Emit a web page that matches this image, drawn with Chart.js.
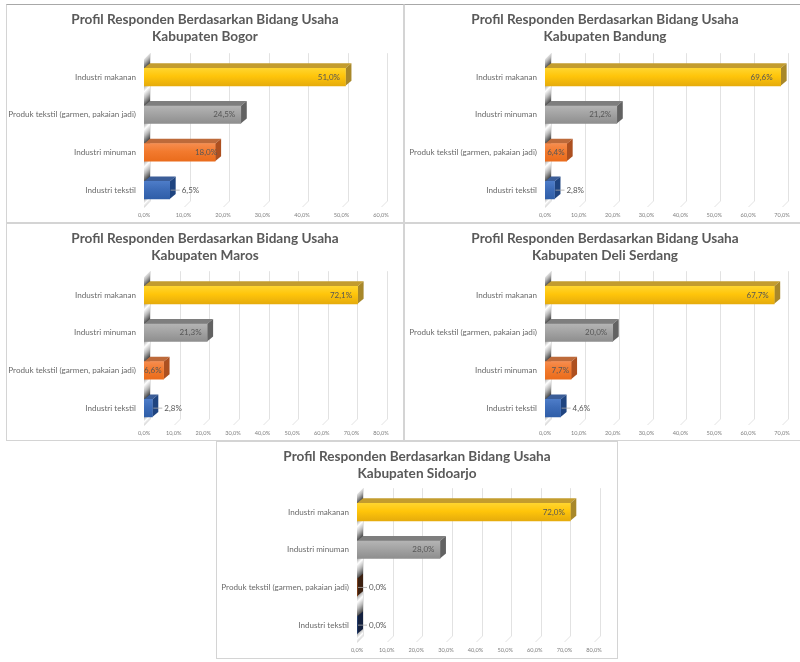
<!DOCTYPE html>
<html>
<head>
<meta charset="utf-8">
<title>Profil Responden Berdasarkan Bidang Usaha</title>
<script src="https://cdn.jsdelivr.net/npm/chart.js@4"></script>
<style>
  html, body { margin: 0; padding: 0; background: #fff; overflow: hidden; width: 800px; height: 662px; }
  .panel { position: absolute; box-sizing: border-box; border: 1px solid #d4d4d4; }
  canvas { position: absolute; left: 0; top: 0; }
</style>
</head>
<body>
<script>
// Survey results per regency: share of respondents by line of business (percent).
const districts = ['Kabupaten Bogor', 'Kabupaten Bandung', 'Kabupaten Maros', 'Kabupaten Deli Serdang', 'Kabupaten Sidoarjo'];
const chartHeading = 'Profil Responden Berdasarkan Bidang Usaha';

const categoriesBogor = ['Industri makanan', 'Produk tekstil (garmen, pakaian jadi)', 'Industri minuman', 'Industri tekstil'];
const valuesBogor = [51.0, 24.5, 18.0, 6.5];

const categoriesBandung = ['Industri makanan', 'Industri minuman', 'Produk tekstil (garmen, pakaian jadi)', 'Industri tekstil'];
const valuesBandung = [69.6, 21.2, 6.4, 2.8];

const categoriesMaros = ['Industri makanan', 'Industri minuman', 'Produk tekstil (garmen, pakaian jadi)', 'Industri tekstil'];
const valuesMaros = [72.1, 21.3, 6.6, 2.8];

const categoriesDeliSerdang = ['Industri makanan', 'Produk tekstil (garmen, pakaian jadi)', 'Industri minuman', 'Industri tekstil'];
const valuesDeliSerdang = [67.7, 20.0, 7.7, 4.6];

const categoriesSidoarjo = ['Industri makanan', 'Industri minuman', 'Produk tekstil (garmen, pakaian jadi)', 'Industri tekstil'];
const valuesSidoarjo = [72.0, 28.0, 0.0, 0.0];

const axisMaximums = [60, 70, 80, 70, 80];

// How each value label sits relative to its bar.
const placementsBogor = ['inside', 'inside', 'over', 'leader'];
const placementsBandung = ['deep', 'inside', 'snug', 'leader'];
const placementsMaros = ['inside', 'inside', 'snug', 'leader'];
const placementsDeliSerdang = ['inside', 'inside', 'snug', 'leader'];
const placementsSidoarjo = ['inside', 'inside', 'leader', 'leader'];

const categorySets = [categoriesBogor, categoriesBandung, categoriesMaros, categoriesDeliSerdang, categoriesSidoarjo];
const valueSets = [valuesBogor, valuesBandung, valuesMaros, valuesDeliSerdang, valuesSidoarjo];
const placementSets = [placementsBogor, placementsBandung, placementsMaros, placementsDeliSerdang, placementsSidoarjo];

// Page layout of the five frames, in pixels.
const frames = [
  { x: 6,   y: 4,   w: 398, h: 219, zero: 144, end: 381, top: 58.2,  bottom: 209,   topEdge: '#a8a8a8' },
  { x: 404, y: 4,   w: 402, h: 219, zero: 545, end: 782, top: 58.2,  bottom: 209,   topEdge: '#a8a8a8' },
  { x: 6,   y: 223, w: 398, h: 218, zero: 144, end: 381, top: 276.2, bottom: 427,   topEdge: '#d4d4d4' },
  { x: 404, y: 223, w: 402, h: 218, zero: 545, end: 782, top: 276.2, bottom: 427,   topEdge: '#d4d4d4' },
  { x: 216, y: 441, w: 402, h: 218, zero: 357, end: 594, top: 493.2, bottom: 644,   topEdge: '#d4d4d4' }
];

// Colours follow the bar's rank in the panel, top to bottom.
const palette = [
  { light: '#ffd52e', mid: '#ffc50a', dark: '#e6ac0c', top: '#c39c2e', side: '#a8882a', empty: '#a8882a' },
  { light: '#b4b4b4', mid: '#a3a3a3', dark: '#8e8e8e', top: '#7e7e7e', side: '#626262', empty: '#626262' },
  { light: '#f68c4e', mid: '#f27a2e', dark: '#ea6c1c', top: '#bd6a3a', side: '#ad5020', empty: '#3c2010' },
  { light: '#4d7cc8', mid: '#3d6cb8', dark: '#2f5ea8', top: '#3b5d98', side: '#1f4480', empty: '#14213f' }
];

const FONT = 'Lato, Carlito, "Open Sans", sans-serif';
const DEPTH_X = 6;      // receding offset of the 3-D faces
const DEPTH_Y = 5;
const BAR_HEIGHT = 17.5;
const LABEL_END = { inside: -5.5, deep: -8, snug: -2, over: 2 };

const formatPercent = v => v.toFixed(1).replace('.', ',') + '%';

// Draws the grid on the back wall, the striped side wall and the receding bar faces.
const depthPlugin = {
  id: 'depth',
  beforeDatasetsDraw(chart) {
    const { ctx, chartArea: area, scales: { x, y } } = chart;
    const data = chart.data.datasets[0].data;

    ctx.save();
    ctx.strokeStyle = '#e2e2e2';
    ctx.lineWidth = 1;
    x.ticks.forEach(t => {
      const px = Math.round(x.getPixelForValue(t.value)) + 0.5;
      ctx.beginPath();
      ctx.moveTo(px + DEPTH_X, area.top - 5);
      ctx.lineTo(px + DEPTH_X, area.bottom - 8);
      ctx.lineTo(px, area.bottom - 2);
      ctx.stroke();
    });

    // Side wall: a parallelogram with a glossy band between neighbouring bars.
    const x0 = x.getPixelForValue(0);
    const wallTop = area.top - 5;
    const wallBottom = area.bottom - 1;
    ctx.save();
    ctx.beginPath();
    ctx.moveTo(x0, wallTop + 6);
    ctx.lineTo(x0 + DEPTH_X, wallTop);
    ctx.lineTo(x0 + DEPTH_X, wallBottom - 7);
    ctx.lineTo(x0, wallBottom);
    ctx.closePath();
    ctx.clip();
    const stops = [wallTop - 6];
    data.forEach((_, i) => {
      const c = y.getPixelForValue(i);
      stops.push(c - BAR_HEIGHT / 2);
      stops.push(c + BAR_HEIGHT / 2 - DEPTH_Y);
    });
    stops.push(wallBottom + 8);
    for (let s = 0; s < stops.length; s += 2) {
      const ya = stops[s], yb = stops[s + 1], len = yb - ya;
      const g = ctx.createLinearGradient(x0 + 3, ya, x0 + 3 + len / 2, ya + len / 2);
      g.addColorStop(0, '#8c8c8c');
      g.addColorStop(0.32, '#ffffff');
      g.addColorStop(0.6, '#b8b8b8');
      g.addColorStop(1, '#2c2c2c');
      ctx.fillStyle = g;
      ctx.fillRect(x0 - 1, ya - 6, DEPTH_X + 2, len + 12);
    }
    ctx.restore();

    // Top and end faces of each bar.
    data.forEach((v, i) => {
      const c = palette[i];
      const xe = x.getPixelForValue(v);
      const yc = y.getPixelForValue(i);
      const yt = yc - BAR_HEIGHT / 2;
      const yb = yc + BAR_HEIGHT / 2;
      ctx.fillStyle = c.top;
      ctx.beginPath();
      ctx.moveTo(x0, yt);
      ctx.lineTo(x0 + DEPTH_X, yt - DEPTH_Y);
      ctx.lineTo(xe + DEPTH_X, yt - DEPTH_Y);
      ctx.lineTo(xe, yt);
      ctx.closePath();
      ctx.fill();
      ctx.fillStyle = v === 0 ? c.empty : c.side;
      ctx.beginPath();
      ctx.moveTo(xe, yt);
      ctx.lineTo(xe + DEPTH_X, yt - DEPTH_Y);
      ctx.lineTo(xe + DEPTH_X, yb - DEPTH_Y);
      ctx.lineTo(xe, yb);
      ctx.closePath();
      ctx.fill();
    });
    ctx.restore();
  },
  // Value labels, with a thin leader when the label sits beside a short bar.
  afterDatasetsDraw(chart) {
    const { ctx, scales: { x, y } } = chart;
    const data = chart.data.datasets[0].data;
    const places = chart.options.plugins.depth.placements;
    ctx.save();
    ctx.font = '8px ' + FONT;
    ctx.fillStyle = '#565656';
    ctx.textBaseline = 'middle';
    data.forEach((v, i) => {
      const xe = x.getPixelForValue(v);
      const yc = y.getPixelForValue(i);
      const place = places[i];
      if (place === 'leader') {
        ctx.strokeStyle = '#a6a6a6';
        ctx.lineWidth = 0.8;
        ctx.beginPath();
        ctx.moveTo(xe + 1, yc);
        ctx.lineTo(xe + 10, yc);
        ctx.stroke();
        ctx.textAlign = 'left';
        ctx.fillText(formatPercent(v), xe + 12, yc);
      } else {
        ctx.textAlign = 'right';
        ctx.fillText(formatPercent(v), xe + LABEL_END[place], yc);
      }
    });
    ctx.restore();
  }
};

function frontFill(context) {
  const chart = context.chart;
  const c = palette[context.dataIndex];
  if (!chart.chartArea) return c.mid;
  const yc = chart.scales.y.getPixelForValue(context.dataIndex);
  const g = chart.ctx.createLinearGradient(0, yc - BAR_HEIGHT / 2, 0, yc + BAR_HEIGHT / 2);
  g.addColorStop(0, c.light);
  g.addColorStop(0.45, c.mid);
  g.addColorStop(1, c.dark);
  return g;
}

frames.forEach((f, idx) => {
  const frame = document.createElement('div');
  frame.className = 'panel';
  frame.style.cssText = `left:${f.x}px;top:${f.y}px;width:${f.w}px;height:${f.h}px;border-top-color:${f.topEdge}`;
  document.body.appendChild(frame);

  const canvas = document.createElement('canvas');
  canvas.style.left = f.x + 'px';
  canvas.style.top = f.y + 'px';
  document.body.appendChild(canvas);
  canvas.width = f.w;
  canvas.height = f.h;

  const plotTop = f.top - f.y;
  const plotBottom = f.bottom - f.y;
  const titlePadTop = 7.5;
  const titleLine = 17;
  const rightGap = f.w - (f.end - f.x);

  new Chart(canvas, {
    type: 'bar',
    data: {
      labels: categorySets[idx],
      datasets: [{
        data: valueSets[idx],
        backgroundColor: frontFill,
        borderWidth: 0,
        barThickness: BAR_HEIGHT
      }]
    },
    plugins: [depthPlugin],
    options: {
      indexAxis: 'y',
      responsive: false,
      animation: false,
      events: [],
      scales: {
        x: {
          min: 0,
          max: axisMaximums[idx],
          grid: { display: false, drawTicks: false },
          border: { display: false },
          afterFit: s => { s.height = f.h - plotBottom; },
          ticks: {
            stepSize: 10,
            maxRotation: 0,
            padding: 3,
            color: '#7f7f7f',
            font: { family: FONT, size: 5.6 },
            callback: v => formatPercent(v)
          }
        },
        y: {
          grid: { display: false, drawTicks: false },
          border: { display: false },
          afterFit: s => { s.width = f.zero - f.x; },
          ticks: {
            padding: 8,
            color: '#6a6a6a',
            font: { family: FONT, size: 8.1 },
            autoSkip: false
          }
        },
        // Blank right-hand axis: reserves the gap beside the plot while the
        // heading stays centred on the whole frame.
        rightGap: {
          type: 'linear',
          axis: 'y',
          position: 'right',
          grid: { display: false, drawTicks: false },
          border: { display: false },
          ticks: { display: false },
          afterFit: s => { s.width = rightGap; }
        }
      },
      plugins: {
        legend: { display: false },
        tooltip: { enabled: false },
        depth: { placements: placementSets[idx] },
        title: {
          display: true,
          text: [chartHeading, districts[idx]],
          color: '#595959',
          font: { family: FONT, size: 13.6, weight: 'bold', lineHeight: titleLine / 13.6 },
          padding: { top: titlePadTop, bottom: plotTop - titlePadTop - 2 * titleLine }
        }
      }
    }
  });
});
</script>
</body>
</html>
